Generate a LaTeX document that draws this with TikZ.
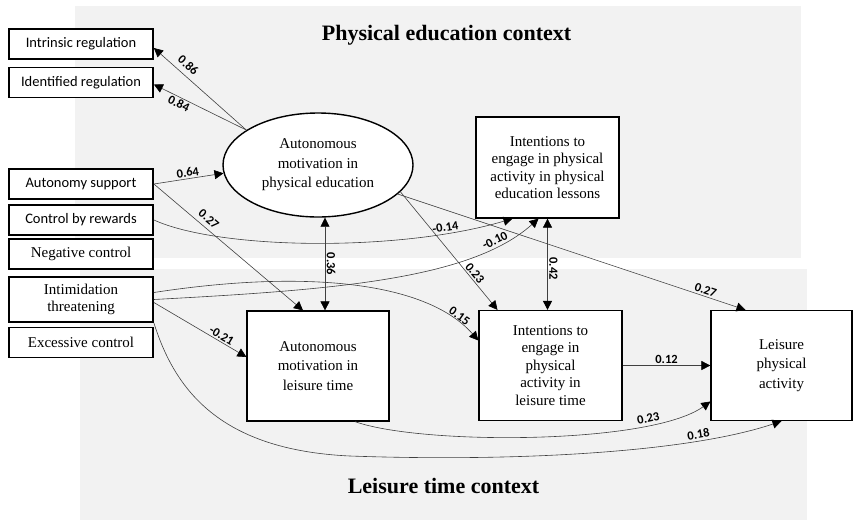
\documentclass[tikz,border=0pt]{standalone}
\usepackage{fontspec}
\setmainfont{Liberation Serif}
\newfontfamily\calibfont{Carlito}
\usepackage{tikz}
\usetikzlibrary{arrows.meta, shapes.geometric}
\definecolor{panel}{RGB}{242,242,242}

\begin{document}
\begin{tikzpicture}[
    x=1pt, y=-1pt,
    font=\fontsize{15}{17.5}\selectfont,
    every node/.style = {align=center},
    side/.style = {rectangle, draw=black, line width=1.8pt, fill=white,
                   minimum width=144pt, minimum height=30pt, inner sep=2pt},
    sideSans/.style = {side, font=\calibfont\fontsize{14.5}{17}\selectfont},
    box/.style = {rectangle, draw=black, line width=1.2pt, fill=white,
                  minimum width=142pt, minimum height=110pt, inner sep=2pt},
    latent/.style = {ellipse, draw=black, line width=1.4pt, fill=white,
                     minimum width=190pt, minimum height=104pt, inner sep=0pt,
                     font=\fontsize{15}{19.5}\selectfont},
    coef/.style = {font=\calibfont\bfseries\fontsize{12.5}{14}\selectfont,
                   inner sep=1.5pt},
    arrow/.style = {-{Triangle[length=9pt, width=9pt, color=black]},
                    line width=0.6pt, draw=black!75},
    twoway/.style = {{Triangle[length=9pt, width=9pt, color=black]}-{Triangle[length=9pt, width=9pt, color=black]},
                     line width=0.6pt, draw=black!75},
    context/.style = {font=\bfseries\fontsize{22}{26}\selectfont}
  ]

  \useasboundingbox (0,0) rectangle (853,520);

  % --- Context panels ---
  \fill[panel] (75,6) rectangle (801,258);
  \fill[panel] (80,269) rectangle (807,520);
  \node[context] (pectx) at (446.5,35) {Physical education context};
  \node[context] (ltctx) at (443.5,486) {Leisure time context};

  % --- Left column (predictors) ---
  \node[sideSans] (intrinsic)  at (81,44)   {Intrinsic regulation};
  \node[sideSans] (identified) at (81,82.5) {Identified regulation};
  \node[sideSans] (support)    at (81,184)  {Autonomy support};
  \node[sideSans] (rewards)    at (81,220)  {Control by rewards};
  \node[side]     (negative)   at (81,254)  {Negative control};
  \node[side, minimum height=45pt] (intimid) at (81,299.5) {Intimidation\\threatening};
  \node[side]     (excessive)  at (81,342.5) {Excessive control};

  % --- Physical education context ---
  \node[latent] (ampe) at (318,165) {Autonomous\\motivation in\\physical education};
  \node[box, minimum width=143pt, minimum height=101pt] (inpe) at (547.5,167.5)
       {Intentions to\\engage in physical\\activity in physical\\education lessons};

  % --- Leisure time context ---
  \node[box, font=\fontsize{15}{19.5}\selectfont] (amlt) at (318,366)
       {Autonomous\\motivation in\\leisure time};
  \node[box, minimum width=143pt] (inlt) at (550.5,365.5)
       {Intentions to\\engage in\\physical\\activity in\\leisure time};
  \node[box, minimum width=141pt, font=\fontsize{15}{19.5}\selectfont] (lpa) at (781.5,365.5)
       {Leisure\\physical\\activity};

  % --- Paths out of the latent factor ---
  \draw[arrow] (ampe.154) -- node[coef, sloped, above=4pt, pos=0.7] {0.86} ([yshift=-4pt]intrinsic.east);
  \draw[arrow] (ampe.154) -- node[coef, sloped, below, pos=0.7] {0.84} ([yshift=-2pt]identified.east);
  \draw[arrow] (ampe.-18) -- node[coef, sloped, above, pos=0.72] {0.23} ([xshift=-53pt]inlt.north);
  \draw[arrow] (ampe.-20) -- node[coef, sloped, above, pos=0.88] {0.27} ([xshift=-36pt]lpa.north);

  % --- Paths from the predictors ---
  \draw[arrow] (support.east) -- node[coef, sloped, above] {0.64} (ampe.185);
  \draw[arrow] (support.east) -- node[coef, sloped, above=3pt, pos=0.33] {0.27} ([xshift=-15pt]amlt.north);
  \draw[arrow] (rewards.east) .. controls (220,250) and (400,252) ..
       node[coef, sloped, above, pos=0.82] {-0.14} ([xshift=-35pt]inpe.south);
  \draw[arrow] (intimid.east) .. controls (330,290) and (470,280) ..
       node[coef, sloped, above, pos=0.83] {-0.10} ([xshift=-9pt]inpe.south);
  \draw[arrow] ([yshift=7pt]intimid.east) .. controls (300,270) and (425,280) ..
       node[coef, sloped, above, pos=0.88] {0.15} ([yshift=25pt]inlt.west);
  \draw[arrow] ([yshift=-3pt]intimid.east) -- node[coef, sloped, above, pos=0.7] {-0.21} ([yshift=9pt]amlt.west);
  \draw[arrow] (intimid.south east) .. controls (175,390) and (220,450) .. (350,456)
       .. controls (520,462) and (690,452) .. node[coef, sloped, above, pos=0.75] {0.18} (lpa.south);

  % --- Leisure time paths ---
  \draw[arrow] ([xshift=37pt]amlt.south) .. controls (420,445) and (650,445) ..
       node[coef, sloped, above, pos=0.78] {0.23} ([yshift=-36pt]lpa.west);
  \draw[arrow] (inlt.east) -- node[coef, above] {0.12} (lpa.west);

  % --- Correlations between contexts ---
  \draw[twoway] ([xshift=7pt]ampe.south) -- node[coef, rotate=-90, above] {0.36} ([xshift=7pt]amlt.north);
  \draw[twoway] (inpe.south) -- node[coef, rotate=-90, above, pos=0.55] {0.42} (inpe.south |- inlt.north);

\end{tikzpicture}
\end{document}
